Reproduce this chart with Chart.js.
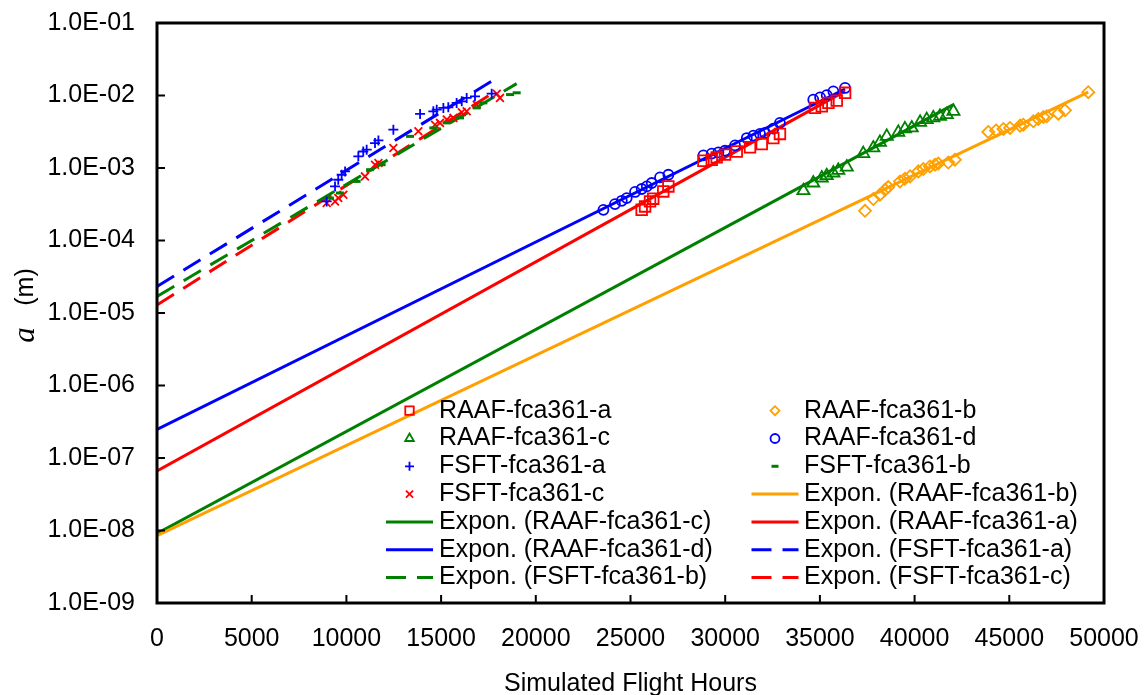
<!DOCTYPE html>
<html>
<head>
<meta charset="utf-8">
<script src="https://cdn.jsdelivr.net/npm/chart.js@4.4.1/dist/chart.umd.min.js"></script>
<style>
  html, body { margin: 0; padding: 0; background: #fff; }
</style>
</head>
<body>
<canvas id="chart" width="1145" height="695"></canvas>
<script>
// crack length a (m) against simulated flight hours
const raafA_hours = [25590, 25770, 26030, 26200, 26730, 27000, 28850, 29290, 29550, 29990, 30610, 31310, 31930, 32540, 32890, 34740, 35100, 35450, 35890, 36330];
const raafA_a = [2.65e-4, 2.95e-4, 3.46e-4, 3.77e-4, 4.75e-4, 5.57e-4, 1.26e-3, 1.30e-3, 1.40e-3, 1.53e-3, 1.69e-3, 1.93e-3, 2.14e-3, 2.59e-3, 2.95e-3, 6.75e-3, 7.10e-3, 7.91e-3, 8.51e-3, 1.09e-2];

const raafB_hours = [37380, 37820, 38170, 38440, 38610, 39230, 39490, 39760, 40200, 40460, 40810, 41080, 41250, 41780, 42130, 43890, 44300, 44690, 45040, 45570, 45740, 46270, 46530, 46800, 46980, 47590, 47940, 49170];
const raafB_a = [2.57e-4, 3.73e-4, 4.28e-4, 5.01e-4, 5.47e-4, 6.53e-4, 7.11e-4, 7.66e-4, 8.98e-4, 9.68e-4, 1.05e-3, 1.11e-3, 1.15e-3, 1.19e-3, 1.30e-3, 3.14e-3, 3.30e-3, 3.46e-3, 3.57e-3, 3.84e-3, 3.96e-3, 4.41e-3, 4.75e-3, 5.06e-3, 5.16e-3, 5.62e-3, 6.25e-3, 1.11e-2];

const raafC_hours = [34130, 34650, 35100, 35360, 35710, 35970, 36420, 37290, 37820, 38170, 38530, 39140, 39490, 39850, 40290, 40640, 40990, 41340, 41700, 42050];
const raafC_a = [4.86e-4, 6.21e-4, 7.28e-4, 7.83e-4, 8.53e-4, 9.27e-4, 1.03e-3, 1.58e-3, 1.89e-3, 2.26e-3, 2.73e-3, 3.10e-3, 3.46e-3, 3.57e-3, 4.27e-3, 4.65e-3, 4.91e-3, 5.16e-3, 5.45e-3, 6.05e-3];

const raafD_hours = [23570, 24180, 24540, 24800, 25240, 25590, 25860, 26120, 26560, 27000, 28850, 29290, 29640, 29990, 30520, 31140, 31490, 31840, 32100, 32540, 32890, 34650, 35010, 35360, 35710, 36330];
const raafD_a = [2.65e-4, 3.18e-4, 3.53e-4, 3.85e-4, 4.67e-4, 5.13e-4, 5.57e-4, 6.21e-4, 7.41e-4, 8.07e-4, 1.49e-3, 1.58e-3, 1.64e-3, 1.73e-3, 2.05e-3, 2.59e-3, 2.79e-3, 2.95e-3, 3.04e-3, 3.49e-3, 4.19e-3, 8.77e-3, 9.44e-3, 1.01e-2, 1.14e-2, 1.27e-2];

const fsftA_hours = [8960, 9400, 9570, 9750, 9930, 10630, 10890, 11070, 11510, 11690, 12480, 13890, 14590, 14770, 15120, 15380, 15820, 16090, 16350, 16790, 17670];
const fsftA_a = [3.46e-4, 5.57e-4, 6.89e-4, 8.07e-4, 8.98e-4, 1.45e-3, 1.69e-3, 1.79e-3, 2.21e-3, 2.40e-3, 3.38e-3, 5.57e-3, 6.05e-3, 6.38e-3, 6.75e-3, 6.87e-3, 7.91e-3, 8.32e-3, 9.27e-3, 9.75e-3, 1.06e-2];

const fsftB_hours = [9130, 9660, 10540, 11250, 11860, 13360, 14590, 15300, 16000, 16880, 17230, 18640, 18990];
const fsftB_a = [3.85e-4, 4.52e-4, 6.53e-4, 9.48e-4, 1.11e-3, 2.73e-3, 3.57e-3, 4.19e-3, 4.91e-3, 6.75e-3, 7.91e-3, 1.03e-2, 1.09e-2];

const fsftC_hours = [8960, 9400, 9570, 9840, 10980, 11510, 11690, 12480, 13800, 14680, 14940, 15300, 15650, 16090, 16350, 16880, 17940, 18110];
const fsftC_a = [3.29e-4, 3.46e-4, 3.85e-4, 4.28e-4, 7.66e-4, 1.11e-3, 1.17e-3, 1.89e-3, 3.21e-3, 3.96e-3, 4.19e-3, 4.65e-3, 4.91e-3, 5.86e-3, 6.05e-3, 7.48e-3, 1.06e-2, 9.27e-3];

// exponential trend lines: straight on the log axis, so two ends are enough
const trendNames = ['RAAF-fca361-b', 'RAAF-fca361-c', 'RAAF-fca361-a', 'RAAF-fca361-d', 'FSFT-fca361-a', 'FSFT-fca361-b', 'FSFT-fca361-c'];
const trendStartHours = [0, 0, 0, 0, 0, 0, 0];
const trendStartA = [8.5e-9, 9.1e-9, 6.65e-8, 2.48e-7, 2.32e-5, 1.69e-5, 1.29e-5];
const trendEndHours = [49170, 42050, 36330, 36330, 17740, 18990, 18000];
const trendEndA = [1.11e-2, 7.5e-3, 1.15e-2, 1.23e-2, 1.62e-2, 1.46e-2, 1.2e-2];

const decades = [1e-9, 1e-8, 1e-7, 1e-6, 1e-5, 1e-4, 1e-3, 1e-2, 1e-1];
const hourTicks = [0, 5000, 10000, 15000, 20000, 25000, 30000, 35000, 40000, 45000, 50000];

const RED = '#FF0000', ORANGE = '#FFA000', GREEN = '#008000', BLUE = '#0000FF';
const FONT = "'Liberation Sans', Arial, sans-serif";

const pts = (xs, ys) => xs.map((x, i) => ({ x: x, y: ys[i] }));

function markers(label, xs, ys, color, style, radius, legendRadius, width) {
  return {
    label: label,
    data: pts(xs, ys),
    showLine: false,
    pointStyle: style,
    pointRadius: radius,
    legendRadius: legendRadius,
    pointBorderWidth: width || 1.8,
    borderColor: color,
    backgroundColor: 'rgba(0,0,0,0)',
  };
}

function trend(i, color, dashed) {
  return {
    label: 'Expon. (' + trendNames[i] + ')',
    data: [{ x: trendStartHours[i], y: trendStartA[i] }, { x: trendEndHours[i], y: trendEndA[i] }],
    showLine: true,
    pointRadius: 0,
    borderColor: color,
    borderWidth: 3,
    borderDash: dashed ? [20, 11] : [],
  };
}

const datasets = [
  markers('RAAF-fca361-a', raafA_hours, raafA_a, RED, 'rect', 7.5, 6),
  markers('RAAF-fca361-b', raafB_hours, raafB_a, ORANGE, 'rectRot', 6, 4.5),
  markers('RAAF-fca361-c', raafC_hours, raafC_a, GREEN, 'triangle', 7, 5),
  markers('RAAF-fca361-d', raafD_hours, raafD_a, BLUE, 'circle', 5, 4.5),
  markers('FSFT-fca361-a', fsftA_hours, fsftA_a, BLUE, 'cross', 5, 4.5),
  markers('FSFT-fca361-b', fsftB_hours, fsftB_a, GREEN, 'line', 4, 3.5, 3),
  markers('FSFT-fca361-c', fsftC_hours, fsftC_a, RED, 'crossRot', 5.5, 5),
  trend(0, ORANGE, false),
  trend(1, GREEN, false),
  trend(2, RED, false),
  trend(3, BLUE, false),
  trend(4, BLUE, true),
  trend(5, GREEN, true),
  trend(6, RED, true),
];

function sci(v) {
  const e = Math.round(Math.log10(v));
  return '1.0E' + (e < 0 ? '-' : '+') + String(Math.abs(e)).padStart(2, '0');
}

// keep the plot box where layout.padding puts it, labels may overhang
function noOverhang(s) {
  s.paddingLeft = 0;
  s.paddingRight = 0;
  s.paddingTop = 0;
  s.paddingBottom = 0;
}

// frame, inward ticks, two-column legend and the y title
const decorations = {
  id: 'decorations',
  afterDraw(chart) {
    const ctx = chart.ctx;
    const area = chart.chartArea;
    const xs = chart.scales.x, ys = chart.scales.y;
    ctx.save();

    ctx.strokeStyle = '#000';
    ctx.lineWidth = 2;
    ctx.beginPath();
    hourTicks.slice(1, -1).forEach(v => {
      const px = xs.getPixelForValue(v);
      ctx.moveTo(px, area.bottom);
      ctx.lineTo(px, area.bottom - 8);
    });
    decades.slice(1, -1).forEach(v => {
      const py = ys.getPixelForValue(v);
      ctx.moveTo(area.left, py);
      ctx.lineTo(area.left + 8, py);
    });
    ctx.stroke();

    ctx.lineWidth = 3;
    ctx.strokeRect(area.left, area.top, area.right - area.left, area.bottom - area.top);

    // legend
    const colSample = [409.5, 775];
    const colText = [439, 804];
    const row0 = 410.7, rowStep = 27.8, half = 23.5;
    ctx.font = '25px ' + FONT;
    ctx.textBaseline = 'middle';
    ctx.textAlign = 'left';
    chart.data.datasets.forEach((ds, i) => {
      const c = i % 2, r = Math.floor(i / 2);
      const cx = colSample[c], cy = row0 + r * rowStep;
      ctx.save();
      ctx.strokeStyle = ds.borderColor;
      if (ds.showLine) {
        ctx.lineWidth = ds.borderWidth;
        ctx.setLineDash(ds.borderDash);
        ctx.beginPath();
        ctx.moveTo(cx - half, cy);
        ctx.lineTo(cx + half, cy);
        ctx.stroke();
      } else {
        ctx.fillStyle = 'rgba(0,0,0,0)';
        ctx.lineWidth = ds.pointBorderWidth;
        Chart.helpers.drawPoint(ctx, {
          pointStyle: ds.pointStyle,
          radius: ds.legendRadius,
          borderWidth: ds.pointBorderWidth,
          rotation: 0,
        }, cx, cy);
      }
      ctx.restore();
      ctx.fillStyle = '#000';
      ctx.fillText(ds.label, colText[c], cy);
    });

    // y axis title: italic a, upright unit
    ctx.translate(26, 0);
    ctx.rotate(-Math.PI / 2);
    ctx.textAlign = 'center';
    ctx.fillStyle = '#000';
    ctx.font = 'italic 31px "Liberation Serif", "Times New Roman", serif';
    ctx.fillText('a', -335, 0);
    ctx.font = '25px ' + FONT;
    ctx.fillText('(m)', -287, 0);

    ctx.restore();
  }
};

Chart.defaults.color = '#000';
Chart.defaults.font.family = FONT;

new Chart(document.getElementById('chart'), {
  type: 'scatter',
  data: { datasets: datasets },
  options: {
    responsive: false,
    animation: false,
    layout: { padding: { left: 0, top: 23, right: 41, bottom: 0 } },
    plugins: {
      legend: { display: false },
      tooltip: { enabled: false },
    },
    scales: {
      x: {
        type: 'linear',
        min: 0,
        max: 50000,
        afterBuildTicks: s => { s.ticks = hourTicks.map(v => ({ value: v })); },
        afterFit: s => { s.height = 92; noOverhang(s); },
        grid: { display: false, drawTicks: false },
        border: { display: false },
        ticks: { padding: 21, maxRotation: 0, autoSkip: false, font: { size: 25 }, callback: v => String(v) },
        title: { display: true, text: 'Simulated Flight Hours', font: { size: 25, lineHeight: 0.9 }, padding: 0 },
      },
      y: {
        type: 'logarithmic',
        min: 1e-9,
        max: 1e-1,
        afterBuildTicks: s => { s.ticks = decades.map(v => ({ value: v })); },
        afterFit: s => { s.width = 157; noOverhang(s); },
        grid: { display: false, drawTicks: false },
        border: { display: false },
        ticks: { padding: 22, autoSkip: false, font: { size: 25 }, callback: v => sci(v) },
      },
    },
  },
  plugins: [decorations],
});
</script>
</body>
</html>
